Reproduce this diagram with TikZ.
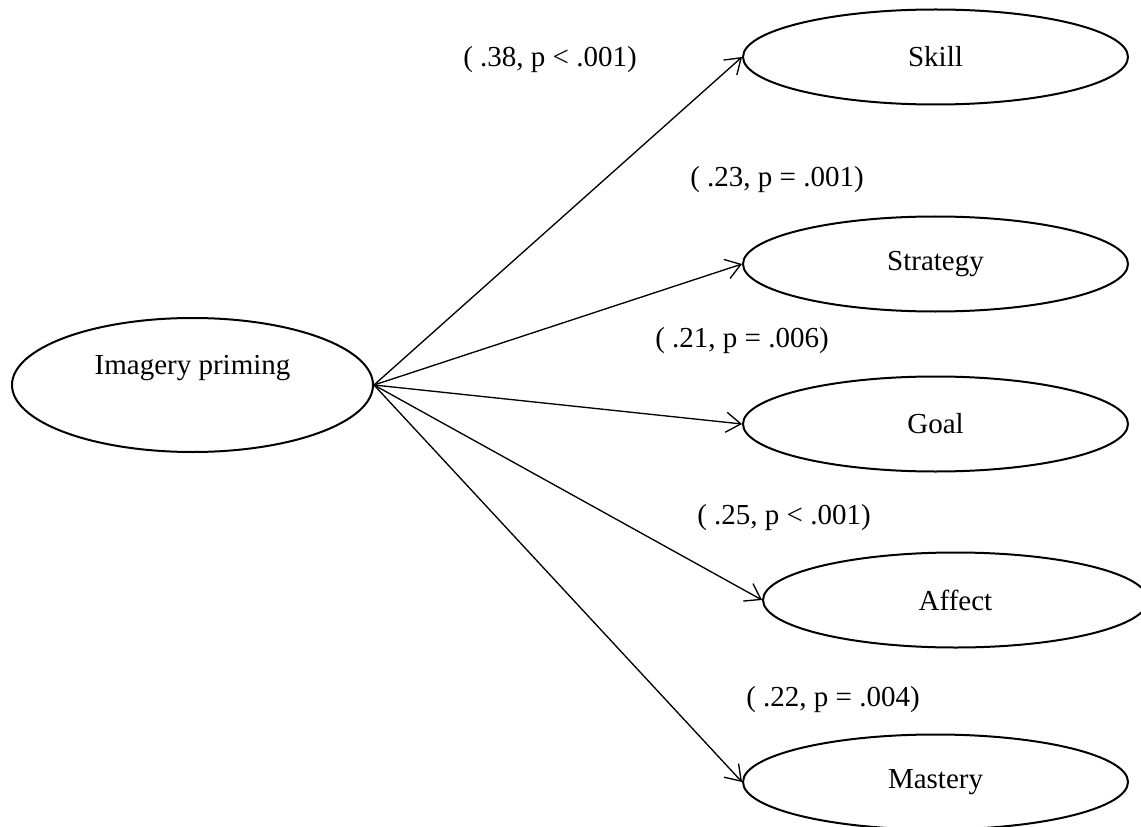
\documentclass[tikz,border=0pt]{standalone}
\usepackage{fontspec}
\setmainfont{Liberation Serif}
\usetikzlibrary{shapes.geometric,arrows.meta}
\begin{document}
\begin{tikzpicture}[x=0.75pt,y=-0.75pt,
  txt/.style={font=\fontsize{21.75}{26}\selectfont},
  factor/.style={ellipse,draw,line width=1.5pt,inner sep=0pt,
    minimum width=288.75pt,minimum height=71.25pt,txt},
  source/.style={factor,minimum width=270.75pt,minimum height=100.5pt},
  effect/.style={line width=1pt,
    -{Straight Barb[length=11pt,width=15pt,line width=1pt]}},
  coef/.style={txt,inner sep=0pt}]
\useasboundingbox (0,0) rectangle (1141,827);
\clip (0,0) rectangle (1141,827);

% predictor
\node[source] (img) at (192.5,385) {};
\node[txt] (imgtext) at (192.5,368) {Imagery priming};

% outcomes
\node[factor] (skill)    at (935.5,57)  {Skill};
\node[factor] (strategy) at (935.5,264) {Strategy};
\node[factor] (goal)     at (935.5,424) {Goal};
\node[factor] (affect)   at (955.5,600) {Affect};
\node[factor] (mastery)  at (935.5,782) {Mastery};

% paths
\draw[effect] (img.east) -- (skill.west);
\draw[effect] (img.east) -- (strategy.west);
\draw[effect] (img.east) -- (goal.west);
\draw[effect] (img.east) -- (affect.west);
\draw[effect] (img.east) -- (mastery.west);

% coefficients
\node[coef] (c1) at (550,60)  {( .38, p < .001)};
\node[coef] (c2) at (777,180) {( .23, p = .001)};
\node[coef] (c3) at (742,341) {( .21, p = .006)};
\node[coef] (c4) at (784,518) {( .25, p < .001)};
\node[coef] (c5) at (833,700) {( .22, p = .004)};
\end{tikzpicture}
\end{document}
